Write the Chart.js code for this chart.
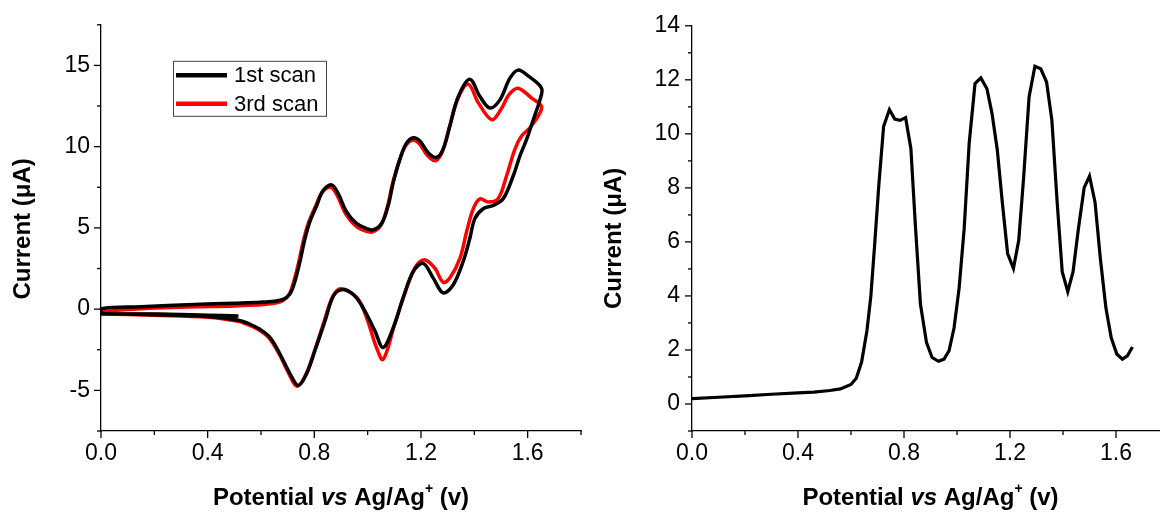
<!DOCTYPE html>
<html><head><meta charset="utf-8">
<script src="https://cdn.jsdelivr.net/npm/chart.js@4.4.1/dist/chart.umd.min.js"></script>
<style>
html,body{margin:0;padding:0;background:#fff;overflow:hidden}
#wrap{position:relative;width:1160px;height:514px;overflow:hidden;background:#fff}
canvas{position:absolute;top:0}
</style></head><body>
<div id="wrap">
<canvas id="cv" width="600" height="514" style="left:0"></canvas>
<canvas id="dpv" width="600" height="514" style="left:580px"></canvas>
</div>
<script>
// ---- data ----
const seriesNames = ['1st scan', '3rd scan'];

const scan1Potential = [0.515,0.4,0.2,0.0,
  0.0,0.15,0.35,0.5,0.6,0.65,0.683,0.709,0.727,0.746,0.765,0.783,0.809,0.833,0.865,0.89,0.921,0.959,0.996,1.021,1.052,1.077,1.096,1.121,1.145,1.171,1.196,1.227,1.258,1.283,1.308,1.34,1.383,1.421,1.458,1.496,1.533,1.564,1.602,1.652,
  1.646,1.621,1.596,1.571,1.546,1.508,1.471,1.433,1.402,1.383,1.358,1.321,1.283,1.246,1.208,1.171,1.133,1.096,1.058,1.027,0.983,0.946,0.902,0.871,0.84,0.802,0.771,0.74,0.709,0.671,0.634,0.596,0.559,0.515,0.4,0.2,0.0];
const scan1Current = [-0.42,-0.37,-0.3,-0.25,
  0.03,0.15,0.29,0.37,0.43,0.49,0.6,0.95,1.7,2.93,4.35,5.37,6.38,7.3,7.65,7.09,5.98,5.26,4.96,4.88,5.26,6.38,7.8,9.23,10.2,10.55,10.35,9.63,9.33,9.84,11.26,13.09,14.15,13.09,12.38,12.88,14.2,14.71,14.35,13.6,
  12.88,11.66,10.45,9.43,8.21,6.79,6.38,6.18,5.57,4.35,2.93,1.5,1.0,1.91,2.82,2.32,0.69,-1.14,-2.36,-1.34,0.08,0.9,1.2,0.79,-0.73,-2.56,-3.98,-4.7,-3.98,-2.76,-1.75,-1.24,-0.93,-0.68,-0.45,-0.34,-0.28];

const scan3Potential = [0.515,0.4,0.2,0.0,
  0.0,0.1,0.3,0.5,0.6,0.65,0.68,0.705,0.723,0.742,0.761,0.779,0.805,0.83,0.862,0.887,0.918,0.956,0.993,1.018,1.049,1.074,1.093,1.118,1.142,1.168,1.193,1.224,1.255,1.28,1.305,1.337,1.377,1.415,1.465,1.5,1.53,1.564,1.615,1.652,
  1.639,1.608,1.577,1.552,1.521,1.489,1.452,1.421,1.396,1.371,1.346,1.308,1.283,1.252,1.215,1.184,1.146,1.1,1.058,1.033,0.996,0.96,0.9,0.868,0.836,0.798,0.766,0.735,0.704,0.666,0.629,0.59,0.55,0.515,0.4,0.2,0.0];
const scan3Current = [-0.47,-0.4,-0.32,-0.27,
  -0.18,-0.02,0.12,0.2,0.27,0.36,0.5,0.9,1.7,2.93,4.35,5.35,6.35,7.2,7.5,6.95,5.85,5.1,4.8,4.75,5.15,6.3,7.7,9.1,10.05,10.4,10.2,9.45,9.13,9.7,11.1,12.9,13.85,12.7,11.66,12.3,13.2,13.6,12.99,12.48,
  11.87,11.16,10.65,9.84,8.21,6.79,6.59,6.79,6.18,4.76,3.13,1.91,1.65,2.52,3.03,2.72,1.3,-1.0,-3.1,-2.36,-0.53,0.7,1.25,0.75,-0.8,-2.7,-4.1,-4.75,-3.95,-2.7,-1.75,-1.25,-0.95,-0.75,-0.5,-0.38,-0.3];

const dpvPotential = [0,0.1,0.2,0.3,0.4,0.46,0.52,0.56,0.6,0.62,0.64,0.66,0.675,0.69,0.705,0.723,0.745,0.765,0.785,0.806,0.826,0.843,0.862,0.885,0.906,0.93,0.951,0.97,0.989,1.008,1.027,1.046,1.068,1.09,1.113,1.132,1.152,1.171,1.191,1.213,1.233,1.251,1.272,1.294,1.316,1.338,1.358,1.378,1.397,1.418,1.438,1.458,1.48,1.5,1.521,1.541,1.562,1.582,1.603,1.624,1.643,1.662];
const dpvCurrent = [0.2,0.25,0.3,0.36,0.41,0.44,0.5,0.56,0.72,0.95,1.55,2.7,4.0,6.0,8.1,10.27,10.9,10.55,10.5,10.6,9.45,6.6,3.7,2.27,1.72,1.58,1.66,1.97,2.82,4.29,6.48,9.66,11.86,12.07,11.67,10.76,9.41,7.46,5.57,5.02,6.06,8.32,11.37,12.5,12.41,11.92,10.51,7.46,4.9,4.16,4.9,6.48,8.01,8.44,7.46,5.38,3.55,2.45,1.85,1.66,1.78,2.11];

const xTickLabels = ['0.0','0.4','0.8','1.2','1.6'];
const cvYTickLabels = ['-5','0','5','10','15'];
const dpvYTickLabels = ['0','2','4','6','8','10','12','14'];
const yTitleText = 'Current (\u03bcA)';
const xTitleParts = ['Potential ', 'vs', ' Ag/Ag', '+', ' (v)'];

// ---- helpers ----
const FONT = '"Liberation Sans", Arial, sans-serif';
const pts = (xs, ys) => xs.map((x, i) => ({x, y: ys[i]}));
const labelFrom = list => v => {
  const f = list.find(l => Math.abs(parseFloat(l) - v) < 1e-6);
  return f === undefined ? '' : f;
};

const tickMarks = {
  id: 'tickMarks',
  afterDraw(chart) {
    const ctx = chart.ctx, xs = chart.scales.x, ys = chart.scales.y;
    ctx.save();
    ctx.strokeStyle = '#000'; ctx.lineWidth = 1.3;
    xs.ticks.forEach(t => {
      const p = xs.getPixelForValue(t.value);
      const len = t.label !== '' ? 7 : 4;
      ctx.beginPath(); ctx.moveTo(p, xs.top); ctx.lineTo(p, xs.top + len); ctx.stroke();
    });
    ys.ticks.forEach(t => {
      const p = ys.getPixelForValue(t.value);
      const len = t.label !== '' ? 7 : 4;
      ctx.beginPath(); ctx.moveTo(ys.right, p); ctx.lineTo(ys.right - len, p); ctx.stroke();
    });
    ctx.restore();
  }
};

const axisTitles = {
  id: 'axisTitles',
  afterDraw(chart, args, opts) {
    const ctx = chart.ctx, a = chart.chartArea;
    ctx.save();
    ctx.fillStyle = '#000';
    ctx.textBaseline = 'middle';
    // y title
    ctx.save();
    ctx.translate(a.left - 78, (a.top + a.bottom) / 2 + (opts.yOffset || 0));
    ctx.rotate(-Math.PI / 2);
    ctx.textAlign = 'center';
    ctx.font = 'bold 24px ' + FONT;
    ctx.fillText(yTitleText, 0, 0);
    ctx.restore();
    // x title
    const fonts = ['bold 24px ' + FONT, 'italic bold 24px ' + FONT, 'bold 24px ' + FONT, 'bold 14px ' + FONT, 'bold 24px ' + FONT];
    const dys = [0, 0, 0, -9, 0];
    let widths = xTitleParts.map((t, i) => { ctx.font = fonts[i]; return ctx.measureText(t).width; });
    const total = widths.reduce((s, w) => s + w, 0);
    let x = (a.left + a.right) / 2 - total / 2;
    const y = a.bottom + 67;
    ctx.textAlign = 'left';
    xTitleParts.forEach((t, i) => { ctx.font = fonts[i]; ctx.fillText(t, x, y + dys[i]); x += widths[i]; });
    ctx.restore();
  }
};

const boxLegend = {
  id: 'boxLegend',
  afterDraw(chart) {
    const ctx = chart.ctx, a = chart.chartArea;
    const L = a.left + 72, T = a.top + 36, W = 153, H = 55;
    ctx.save();
    ctx.strokeStyle = '#444'; ctx.lineWidth = 1;
    ctx.strokeRect(L + 0.5, T + 0.5, W, H);
    chart.data.datasets.forEach((ds, i) => {
      const yy = T + 14.5 + i * 28.5;
      ctx.strokeStyle = ds.borderColor; ctx.lineWidth = 4.5;
      ctx.beginPath(); ctx.moveTo(L + 3, yy); ctx.lineTo(L + 54, yy); ctx.stroke();
      ctx.fillStyle = '#000'; ctx.font = '22px ' + FONT; ctx.textBaseline = 'middle'; ctx.textAlign = 'left';
      ctx.fillText(ds.label, L + 61, yy + 1);
    });
    ctx.restore();
  }
};

function axisOpts(min, max, step, labels, pad, fixed, isX) {
  return {
    type: 'linear', min, max,
    ticks: { stepSize: step, autoSkip: false, maxRotation: 0, padding: pad, color: '#000',
             font: { family: FONT, size: 23 }, callback: labelFrom(labels) },
    grid: { display: false, drawTicks: false },
    border: { display: true, color: '#000', width: 1.3 },
    afterFit(s) { if (isX) s.height = fixed; else s.width = fixed; }
  };
}

Chart.defaults.font.family = FONT;

new Chart(document.getElementById('cv'), {
  type: 'scatter',
  data: { datasets: [
    { label: seriesNames[0], data: pts(scan1Potential, scan1Current), showLine: true, borderColor: '#000', borderWidth: 3.5, pointRadius: 0, tension: 0.35 },
    { label: seriesNames[1], data: pts(scan3Potential, scan3Current), showLine: true, borderColor: '#ff0000', borderWidth: 3.5, pointRadius: 0, tension: 0.35 }
  ]},
  options: {
    responsive: false, animation: false, devicePixelRatio: 1,
    layout: { padding: { top: 22, right: 19, left: 0, bottom: 0 } },
    plugins: { legend: { display: false }, tooltip: { enabled: false }, axisTitles: { yOffset: 1 } },
    scales: {
      x: axisOpts(0, 1.8, 0.2, xTickLabels, 9, 83, true),
      y: axisOpts(-7.5, 17.5, 2.5, cvYTickLabels, 11, 101, false)
    }
  },
  plugins: [tickMarks, axisTitles, boxLegend]
});

new Chart(document.getElementById('dpv'), {
  type: 'scatter',
  data: { datasets: [
    { label: 'DPV', data: pts(dpvPotential, dpvCurrent), showLine: true, borderColor: '#000', borderWidth: 3.2, pointRadius: 0, tension: 0 }
  ]},
  options: {
    responsive: false, animation: false, devicePixelRatio: 1,
    layout: { padding: { top: 21, right: 11, left: 0, bottom: 0 } },
    plugins: { legend: { display: false }, tooltip: { enabled: false }, axisTitles: { yOffset: 10 } },
    scales: {
      x: axisOpts(0, 1.8, 0.2, xTickLabels, 9, 83, true),
      y: axisOpts(-1, 14, 1, dpvYTickLabels, 12, 112, false)
    }
  },
  plugins: [tickMarks, axisTitles]
});
</script>
</body></html>
